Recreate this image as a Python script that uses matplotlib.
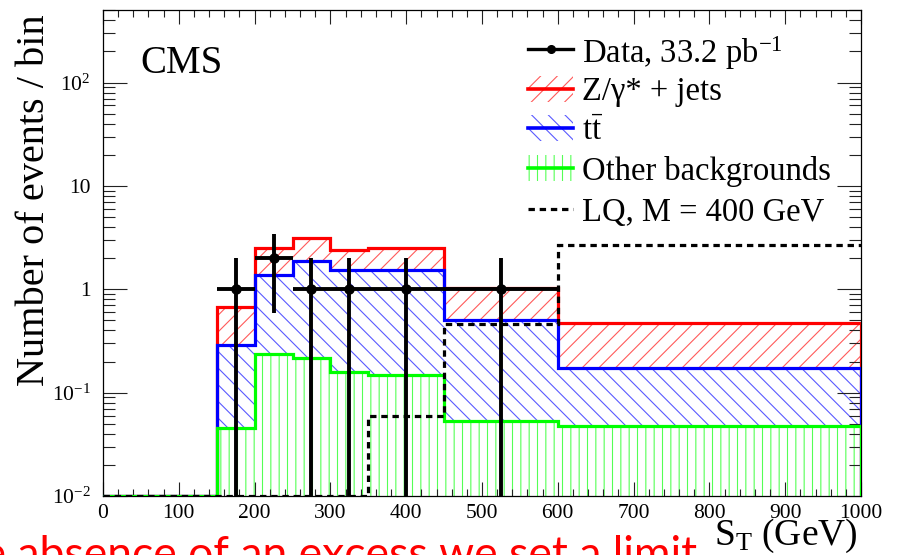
import numpy as np
import matplotlib
matplotlib.use("Agg")
import matplotlib.pyplot as plt
from matplotlib.ticker import FixedLocator, MultipleLocator, LogLocator, NullFormatter
from matplotlib.patches import Rectangle

plt.rcParams['font.family'] = ['Liberation Serif', 'DejaVu Serif']
plt.rcParams['mathtext.fontset'] = 'custom'
plt.rcParams['mathtext.rm'] = 'Liberation Serif'
plt.rcParams['mathtext.it'] = 'Liberation Serif:italic'
plt.rcParams['mathtext.bf'] = 'Liberation Serif:bold'
plt.rcParams['hatch.linewidth'] = 0.8

# S_T binning (GeV) and per-bin event yields
bin_edges = [0, 150, 200, 250, 300, 350, 450, 600, 1000]
other_bkg = [0, 0.045, 0.235, 0.218, 0.158, 0.148, 0.053, 0.0475]
ttbar = [0, 0.242, 1.135, 1.662, 1.372, 1.382, 0.457, 0.125]
zjets = [0, 0.393, 1.16, 1.24, 0.86, 1.0, 0.53, 0.298]
lq_signal = [0, 0, 0, 0, 0, 0.059, 0.458, 2.68]

data_x = [175, 225, 275, 325, 400, 525]
data_xerr = [25, 25, 25, 25, 50, 75]
data_n = [1, 2, 1, 1, 1, 1]

y_tick_vals = [0.01, 0.1, 1, 10, 100]
y_tick_labels = [r'$10^{-2}$', r'$10^{-1}$', '1', '10', r'$10^{2}$']
x_tick_vals = [0, 100, 200, 300, 400, 500, 600, 700, 800, 900, 1000]
x_tick_labels = [str(v) for v in x_tick_vals]

YMIN, YMAX = 0.01, 500

RED, BLUE, GREEN = '#ff0000', '#0000ff', '#00ff00'
RED_H, BLUE_H, GREEN_H = '#ff5a5a', '#5a5aff', '#55ff55'
SERIF = ['Liberation Serif', 'DejaVu Serif']

fig = plt.figure(figsize=(9.01, 5.55), dpi=100)
ax = fig.add_axes([103 / 901, 1 - 496 / 555, 758 / 901, 485.7 / 555])
ax.set_yscale('log', nonpositive='clip')
ax.set_xlim(0, 1000)
ax.set_ylim(YMIN, YMAX)

edges = np.array(bin_edges, dtype=float)
h_other = np.array(other_bkg)
h_tt = h_other + np.array(ttbar)
h_z = h_tt + np.array(zjets)
h_lq = np.array(lq_signal)

def floor(v):
    return np.clip(v, YMIN, None)

# hatched bands of the stacked backgrounds
ax.stairs(floor(h_z), edges, baseline=floor(h_tt), fill=True, facecolor='none',
          edgecolor=RED_H, hatch='//', linewidth=0, zorder=1)
ax.stairs(floor(h_tt), edges, baseline=floor(h_other), fill=True, facecolor='none',
          edgecolor=BLUE_H, hatch='\\\\', linewidth=0, zorder=1)
ax.stairs(floor(h_other), edges, baseline=YMIN, fill=True, facecolor='none',
          edgecolor=GREEN_H, hatch='||', linewidth=0, zorder=1)

# outlines
ax.stairs(floor(h_z), edges, baseline=YMIN, color=RED, lw=2.3, zorder=2)
ax.stairs(floor(h_tt), edges, baseline=YMIN, color=BLUE, lw=2.3, zorder=3)
ax.stairs(floor(h_other), edges, baseline=YMIN, color=GREEN, lw=2.3, zorder=4)

# leptoquark signal
ax.stairs(floor(h_lq), edges, baseline=None, color='black', lw=2.3,
          linestyle=(0, (2.0, 1.5)), zorder=5)

# data with Poisson-like errors
dn = np.array(data_n, dtype=float)
ax.errorbar(data_x, dn, xerr=data_xerr, yerr=np.sqrt(dn), fmt='o', color='black',
            ms=6.5, elinewidth=2.8, capsize=0, zorder=6)

# axis ticks, ROOT style
ax.yaxis.set_major_locator(FixedLocator(y_tick_vals))
ax.set_yticklabels(y_tick_labels, fontsize=15.5, family=SERIF)
ax.yaxis.set_minor_locator(LogLocator(base=10, subs=np.arange(2, 10)))
ax.yaxis.set_minor_formatter(NullFormatter())
ax.xaxis.set_major_locator(FixedLocator(x_tick_vals))
ax.set_xticklabels(x_tick_labels, fontsize=15.5, family=SERIF)
ax.xaxis.set_minor_locator(MultipleLocator(20))
ax.tick_params(which='both', direction='in', top=True, right=True, width=0.8, color='#222222')
ax.tick_params(axis='y', which='major', length=17, pad=9)
ax.tick_params(axis='y', which='minor', length=8.5)
ax.tick_params(axis='x', which='major', length=10, pad=6)
ax.tick_params(axis='x', which='minor', length=5)
for s in ax.spines.values():
    s.set_linewidth(0.9)

fig.text(35 / 901, 1 - 200 / 555, 'Number of events / bin', rotation=90,
         ha='center', va='center', fontsize=29)
fig.text(858 / 901, 1 - 545 / 555, r'S$_{\mathregular{T}}$ (GeV)', ha='right',
         va='baseline', fontsize=27)
ax.text((140 - 103) / 758, (496 - 73) / 485.7, 'CMS', transform=ax.transAxes,
        fontsize=28, va='baseline', ha='left')

# legend
def axc(px, py):
    return ((px - 103) / 758, (496 - py) / 485.7)

x0, x1, xt = 528, 573, 582
rows = [48.5, 88.5, 128, 168, 209]
labels = [r'Data, 33.2 pb$^{-1}$', 'Z/γ* + jets', r'$\mathrm{t\bar{t}}$',
          'Other backgrounds', 'LQ, M = 400 GeV']
tr = ax.transAxes

ax0, ay = axc(x0, rows[0])
ax1, _ = axc(x1, rows[0])
ax.plot([ax0, ax1], [ay, ay], color='black', lw=2.4, transform=tr, zorder=7)
ax.plot([(ax0 + ax1) / 2], [ay], 'o', color='black', ms=5.5, transform=tr, zorder=7)

for row, (lc, hc, hp) in zip(rows[1:4], [(RED, RED_H, '//'), (BLUE, BLUE_H, '\\\\'),
                                         (GREEN, GREEN_H, '||')]):
    bx, by_top = axc(x0, row - 13)
    _, by_bot = axc(x0, row + 13)
    bw = (x1 - x0) / 758
    ax.add_patch(Rectangle((bx, by_bot), bw, by_top - by_bot, transform=tr,
                           facecolor='none', edgecolor=hc, hatch=hp, lw=0, zorder=7))
    _, ly = axc(x0, row)
    ax.plot([bx, bx + bw], [ly, ly], color=lc, lw=2.6, transform=tr, zorder=8)

_, ly = axc(x0, rows[4])
ax.plot([ax0, ax1], [ly, ly], color='black', lw=2.3, linestyle=(0, (2.0, 1.5)),
        transform=tr, zorder=7)

for row, lab in zip(rows, labels):
    tx, ty = axc(xt, row)
    ax.text(tx, ty, lab, transform=tr, fontsize=23.5, va='center_baseline', ha='left',
            zorder=9)

# caption line running off the bottom edge
fig.text(697 / 901, 1 - 568 / 555, 'In the absence of an excess we set a limit',
         ha='right', va='baseline', fontsize=32, color='#ff0000',
         family=['Lato', 'DejaVu Sans'])

fig.savefig('out.png', dpi=100)
